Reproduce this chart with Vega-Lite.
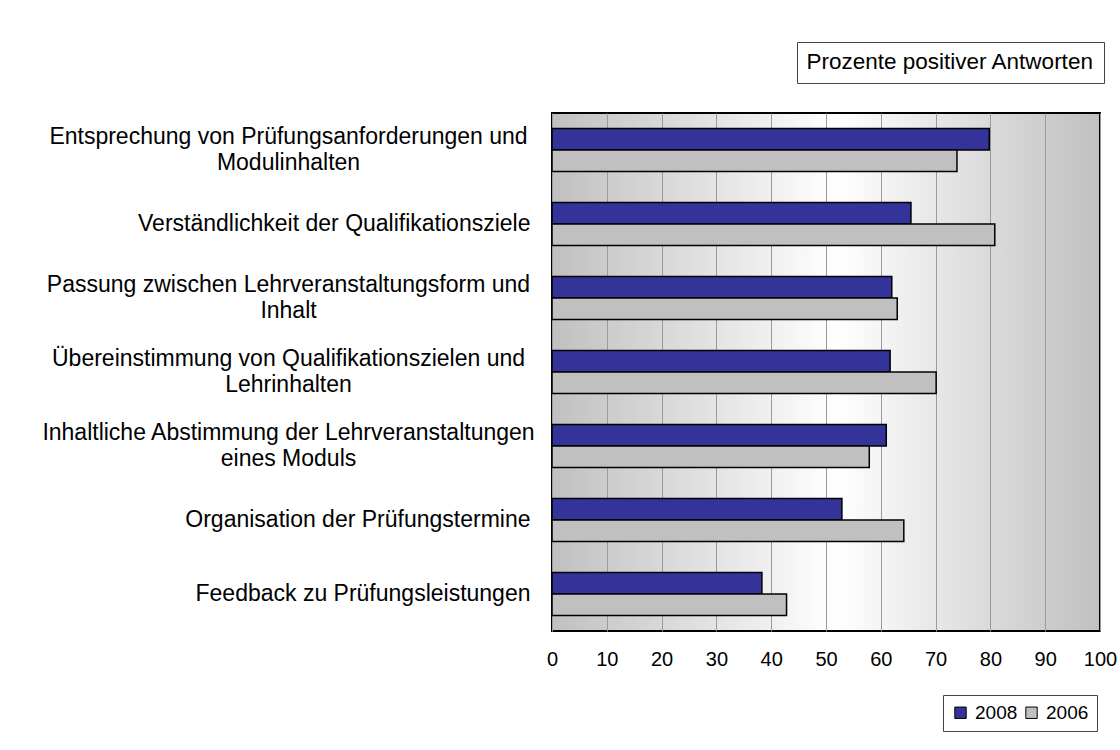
{
  "$schema": "https://vega.github.io/schema/vega-lite/v6.json",
  "autosize": {"type": "none"},
  "width": 548,
  "height": 518,
  "padding": {"left": 552, "top": 113, "right": 20, "bottom": 119},
  "background": "white",
  "view": {
    "fill": {"gradient": "linear", "x1": 0, "y1": 0, "x2": 1, "y2": 0,
      "stops": [{"offset": 0, "color": "#c0c0c0"}, {"offset": 0.52, "color": "#ffffff"}, {"offset": 1, "color": "#c0c0c0"}]},
    "stroke": "#000000",
    "strokeWidth": 2
  },
  "config": {
    "font": "Liberation Sans",
    "axis": {"labelFont": "Liberation Sans", "labelColor": "#000000"},
    "legend": {"labelFont": "Liberation Sans", "labelColor": "#000000"}
  },
  "layer": [
    {
      "data": {"values": [
        {"item": "Entsprechung von Prüfungsanforderungen und|Modulinhalten", "year": "2008", "pct": 79.8},
        {"item": "Entsprechung von Prüfungsanforderungen und|Modulinhalten", "year": "2006", "pct": 73.9},
        {"item": "Verständlichkeit der Qualifikationsziele", "year": "2008", "pct": 65.5},
        {"item": "Verständlichkeit der Qualifikationsziele", "year": "2006", "pct": 80.8},
        {"item": "Passung zwischen Lehrveranstaltungsform und|Inhalt", "year": "2008", "pct": 62.0},
        {"item": "Passung zwischen Lehrveranstaltungsform und|Inhalt", "year": "2006", "pct": 63.0},
        {"item": "Übereinstimmung von Qualifikationszielen und|Lehrinhalten", "year": "2008", "pct": 61.7},
        {"item": "Übereinstimmung von Qualifikationszielen und|Lehrinhalten", "year": "2006", "pct": 70.1},
        {"item": "Inhaltliche Abstimmung der Lehrveranstaltungen|eines Moduls", "year": "2008", "pct": 61.0},
        {"item": "Inhaltliche Abstimmung der Lehrveranstaltungen|eines Moduls", "year": "2006", "pct": 57.9},
        {"item": "Organisation der Prüfungstermine", "year": "2008", "pct": 52.9},
        {"item": "Organisation der Prüfungstermine", "year": "2006", "pct": 64.2},
        {"item": "Feedback zu Prüfungsleistungen", "year": "2008", "pct": 38.3},
        {"item": "Feedback zu Prüfungsleistungen", "year": "2006", "pct": 42.8}
      ]},
      "mark": {"type": "bar", "stroke": "#000000", "strokeWidth": 1.5},
      "encoding": {
        "y": {
          "field": "item", "type": "nominal", "sort": null,
          "scale": {"paddingInner": 0.42, "paddingOuter": 0.21},
          "axis": {
            "title": null, "ticks": false, "domain": false,
            "labelExpr": "split(datum.value, '|')",
            "labelFontSize": 23, "labelLineHeight": 26, "labelLimit": 700,
            "labelAlign": {"condition": {"test": "indexof(datum.value, '|') >= 0", "value": "center"}, "value": "right"},
            "labelPadding": {"condition": {"test": "indexof(datum.value, '|') >= 0", "value": 264}, "value": 22},
            "labelOffset": {"condition": {"test": "indexof(datum.value, '|') >= 0", "value": -13}, "value": 0}
          }
        },
        "yOffset": {"field": "year", "type": "nominal", "sort": ["2008", "2006"], "scale": {"paddingInner": 0}},
        "x": {
          "field": "pct", "type": "quantitative",
          "scale": {"domain": [0, 100], "nice": false},
          "axis": {
            "title": null, "values": [0, 10, 20, 30, 40, 50, 60, 70, 80, 90, 100],
            "ticks": false, "domain": false, "labelFontSize": 20, "labelPadding": 18, "labelFlush": false,
            "grid": true, "gridColor": "#9a9a9a", "gridWidth": 1
          }
        },
        "color": {
          "field": "year", "type": "nominal",
          "scale": {"domain": ["2008", "2006"], "range": ["#333399", "#c0c0c0"]},
          "legend": {
            "title": null, "orient": "none", "legendX": 391, "legendY": 582,
            "direction": "horizontal", "columns": 2,
            "symbolType": "square", "symbolSize": 130, "symbolStrokeColor": "#000000", "symbolStrokeWidth": 1,
            "labelFontSize": 19, "labelOffset": 5, "columnPadding": 4,
            "strokeColor": "#444444", "fillColor": "#ffffff", "padding": 8
          }
        }
      }
    },
    {
      "data": {"values": [{"note": "Prozente positiver Antworten"}]},
      "mark": {"type": "point", "opacity": 0},
      "encoding": {
        "shape": {
          "field": "note", "type": "nominal",
          "legend": {
            "title": null, "orient": "none", "legendX": 245, "legendY": -71,
            "symbolSize": 0, "symbolOpacity": 0, "symbolStrokeWidth": 0, "labelOffset": -22,
            "labelFontSize": 22.5, "labelLimit": 600,
            "strokeColor": "#444444", "fillColor": "#ffffff", "padding": 9
          }
        }
      }
    }
  ]
}
